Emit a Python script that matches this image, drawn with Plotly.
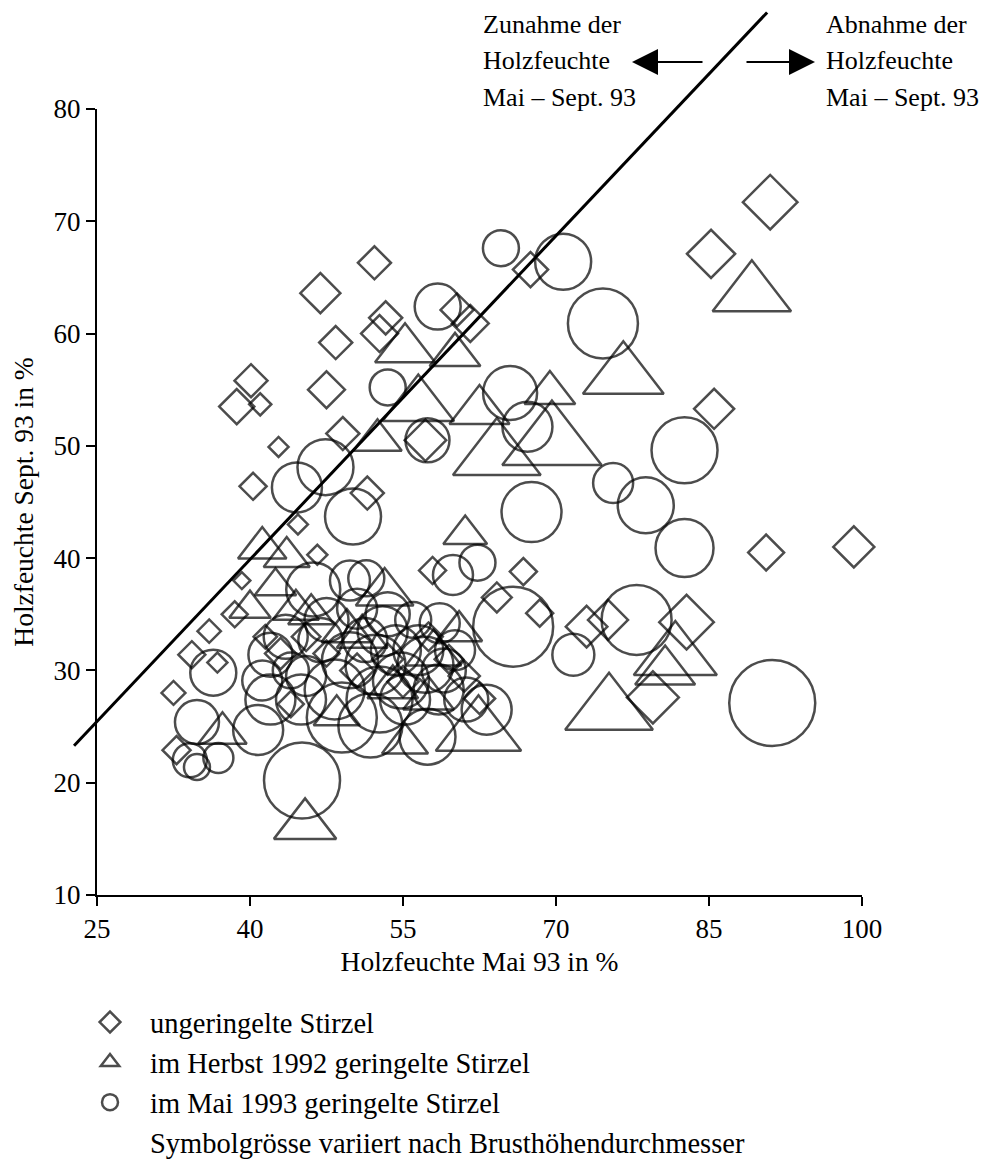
import plotly.graph_objects as go

# ---------------- data ----------------
X_RANGE = [25, 100]
Y_RANGE = [10, 80]
x_ticks = [25, 40, 55, 70, 85, 100]
y_ticks = [10, 20, 30, 40, 50, 60, 70, 80]

# ungeringelte Stirzel (diamonds): Holzfeuchte Mai, Sept, BHD
dia_x = [91.0, 85.2, 85.5, 90.6, 99.2, 82.8, 75.1, 73.0, 79.5, 67.5, 52.2, 46.9, 48.4, 40.1, 38.7,
         41.0, 47.5, 42.8, 40.3, 53.3, 52.7, 60.3, 61.6, 44.7, 39.2, 46.6, 34.3, 36.8, 32.5, 32.8,
         51.5, 57.9, 66.8, 64.2, 68.4, 57.2, 49.1, 36.0, 38.5, 43.0, 45.5, 50.5, 55.0, 59.5, 62.5,
         41.5, 47.5, 53.5, 57.5, 44.0, 61.0]
dia_y = [71.7, 67.1, 53.3, 40.5, 41.0, 34.3, 34.5, 33.9, 27.6, 65.7, 66.3, 63.6, 59.2, 55.8, 53.5,
         53.7, 55.0, 49.9, 46.4, 61.4, 60.0, 62.1, 60.9, 43.0, 38.0, 40.3, 31.4, 30.7, 28.0, 22.9,
         45.8, 38.9, 38.8, 36.5, 35.1, 50.5, 51.1, 33.5, 35.0, 31.5, 33.0, 30.0, 29.0, 31.0, 27.5,
         33.0, 31.5, 31.0, 33.0, 27.0, 29.5]
dia_bhd = [21, 18.5, 15.4, 13.8, 15.8, 21, 15.4, 16, 20, 13.5, 12.7, 15.4, 12.7, 12.7, 13.5,
           8.5, 14.2, 7.7, 10.4, 12.7, 14.2, 12.7, 14.2, 7.7, 6.5, 7.7, 10.4, 7.7, 9.2, 10.8,
           12.7, 10.4, 10.4, 11.5, 10.4, 16, 12.7, 9, 10, 12, 11, 13, 12, 11, 12,
           9, 10, 12, 11, 10, 12]

# im Herbst 1992 geringelte Stirzel (triangles)
tri_x = [89.2, 76.6, 81.7, 80.7, 75.2, 45.4, 69.4, 62.5, 69.6, 64.2, 55.2, 60.1, 56.5, 52.5, 61.1,
         53.2, 43.6, 41.2, 62.4, 55.2, 37.3, 42.5, 40.0, 46.0, 51.0, 58.0, 48.5, 54.0,
         44.5, 49.5, 57.5, 60.5]
tri_y = [63.5, 56.2, 31.2, 29.9, 26.4, 16.2, 54.7, 53.1, 50.2, 49.1, 58.6, 58.1, 53.6, 50.5, 42.1,
         36.9, 40.1, 40.9, 24.5, 23.5, 24.4, 37.5, 35.5, 35.0, 33.0, 31.5, 26.0, 28.5,
         35.4, 33.5, 27.5, 33.5]
tri_bhd = [34, 35, 36, 26, 38, 27, 22, 26, 43, 38, 26, 22, 31, 21, 19,
           25, 20, 21, 37, 20, 21, 18, 18, 20, 22, 24, 20, 22,
           20, 22, 22, 20]

# im Mai 1993 geringelte Stirzel (circles)
cir_x = [64.6, 70.7, 74.6, 58.4, 82.6, 75.6, 78.8, 67.6, 82.6, 77.9, 71.7, 91.2, 65.5, 67.2, 53.5,
         57.4, 50.1, 44.6, 47.4, 59.9, 62.3, 65.8, 58.6, 34.8, 34.1, 34.8, 36.9, 40.8, 45.1, 57.4,
         51.8, 63.2, 36.4, 46.2, 49.8, 51.4, 42.0, 41.2, 44.0, 46.9, 48.3, 49.8, 51.3, 52.3, 52.7,
         54.3, 54.8, 55.2, 57.2, 58.5, 60.1, 61.2, 49.0, 45.0, 42.0, 53.5,
         43.5, 47.5, 50.5, 53.0, 56.5, 59.0, 45.5, 56.0]
cir_y = [67.6, 66.4, 60.9, 62.4, 49.6, 46.7, 44.7, 44.1, 40.9, 34.5, 31.4, 27.1, 54.7, 51.7, 55.2,
         50.5, 43.7, 46.3, 48.1, 38.5, 39.6, 33.9, 34.2, 25.4, 22.0, 21.4, 22.2, 24.7, 20.2, 24.1,
         25.1, 26.5, 29.8, 37.2, 38.0, 38.2, 31.4, 29.1, 30.0, 32.7, 28.3, 30.9, 32.7, 30.5, 27.4,
         31.8, 29.1, 27.4, 30.5, 28.3, 31.8, 27.4, 25.8, 27.4, 27.4, 35.0,
         33.0, 34.5, 35.5, 33.5, 31.8, 30.0, 29.5, 34.5]
cir_bhd = [18, 28, 35, 23, 33, 20, 28, 30, 29, 35, 21, 43, 27, 25, 18,
           22, 28, 25, 28, 20, 18, 40, 20, 22, 17, 13, 15, 25, 38, 28,
           32, 25, 23, 27, 20, 18, 22, 20, 18, 22, 30, 28, 22, 30, 33,
           25, 28, 25, 28, 25, 20, 22, 35, 25, 25, 22,
           22, 22, 20, 25, 25, 22, 20, 18]

# 1:1 reference line (Mai = Sept), end points in data units
ref_x = [22.75, 90.7]
ref_y = [23.3, 88.6]

SIZE_PER_CM = 2.0
FONT = "Liberation Serif, Times New Roman, serif"

# figure geometry (page is offset by the 8px body margin)
OFF = 8
W, H = 993 - 2 * OFF, 1176 - 2 * OFF
L, T = 97 - OFF, 109 - OFF
R = W - (862 - OFF)
B = H - (895 - OFF)
pw, ph = W - L - R, H - T - B


def paper_x(page_px):
    return (page_px - OFF - L) / pw


def paper_y(page_py):
    return (H - B - (page_py - OFF)) / ph


def dx(v):
    return (v - X_RANGE[0]) / (X_RANGE[1] - X_RANGE[0])


def dy(v):
    return (v - Y_RANGE[0]) / (Y_RANGE[1] - Y_RANGE[0])


fig = go.Figure()


def add_series(xs, ys, bhd, symbol, name, group):
    fig.add_trace(go.Scatter(
        x=xs, y=ys, mode="markers", name=name, legendgroup=group,
        marker=dict(symbol=symbol, size=[b * SIZE_PER_CM for b in bhd],
                    color="black", line=dict(color="black", width=2.5)),
        cliponaxis=False))


add_series(dia_x, dia_y, dia_bhd, "diamond-open", "ungeringelte Stirzel", "a")
add_series(tri_x, tri_y, tri_bhd, "triangle-up-open", "im Herbst 1992 geringelte Stirzel", "b")
add_series(cir_x, cir_y, cir_bhd, "circle-open", "im Mai 1993 geringelte Stirzel", "c")
fig.add_trace(go.Scatter(x=[None], y=[None], mode="markers", legendgroup="d",
                         name="Symbolgrösse variiert nach Brusthöhendurchmesser",
                         marker=dict(color="rgba(0,0,0,0)", line=dict(width=0))))

# reference line, in paper coordinates so it may run above the plot area
fig.add_shape(type="line", xref="paper", yref="paper",
              x0=dx(ref_x[0]), y0=dy(ref_y[0]), x1=dx(ref_x[1]), y1=dy(ref_y[1]),
              line=dict(color="black", width=3))

left_lines = ["Zunahme der", "Holzfeuchte", "Mai – Sept. 93"]
right_lines = ["Abnahme der", "Holzfeuchte", "Mai – Sept. 93"]
row_tops = [OFF, 44, 81]
for txt, r in zip(left_lines, row_tops):
    fig.add_annotation(x=paper_x(481), y=paper_y(r), xref="paper", yref="paper",
                       text=txt, showarrow=False, xanchor="left", yanchor="top",
                       font=dict(family=FONT, size=26, color="black"))
for txt, r in zip(right_lines, row_tops):
    fig.add_annotation(x=paper_x(824), y=paper_y(r), xref="paper", yref="paper",
                       text=txt, showarrow=False, xanchor="left", yanchor="top",
                       font=dict(family=FONT, size=26, color="black"))

# arrows
fig.add_annotation(x=paper_x(632), y=paper_y(62), xref="paper", yref="paper",
                   ax=72, ay=0, text="", showarrow=True, arrowhead=2, arrowsize=2.6,
                   arrowwidth=2, arrowcolor="black")
fig.add_annotation(x=paper_x(815), y=paper_y(62), xref="paper", yref="paper",
                   ax=-70, ay=0, text="", showarrow=True, arrowhead=2, arrowsize=2.6,
                   arrowwidth=2, arrowcolor="black")

axis_common = dict(showgrid=False, zeroline=False, showline=True, linecolor="black",
                   linewidth=2, ticks="outside", ticklen=9, tickwidth=2, tickcolor="black",
                   tickfont=dict(family=FONT, size=27, color="black"), mirror=False)

fig.update_layout(
    width=W, height=H,
    margin=dict(l=L, r=R, t=T, b=B, autoexpand=False),
    paper_bgcolor="white", plot_bgcolor="white",
    xaxis=dict(range=X_RANGE, tickvals=x_ticks, **axis_common,
               title=dict(text="Holzfeuchte Mai 93 in %", standoff=8,
                          font=dict(family=FONT, size=27.5, color="black"))),
    yaxis=dict(range=Y_RANGE, tickvals=y_ticks, **axis_common,
               title=dict(text="Holzfeuchte Sept. 93 in %", standoff=12,
                          font=dict(family=FONT, size=27.5, color="black"))),
    legend=dict(x=paper_x(70), y=paper_y(997), xanchor="left", yanchor="top",
                font=dict(family=FONT, size=28.5, color="black"),
                bgcolor="rgba(0,0,0,0)", itemsizing="trace", tracegroupgap=0,
                itemwidth=70),
    showlegend=True,
)

fig.write_html("out.html")
